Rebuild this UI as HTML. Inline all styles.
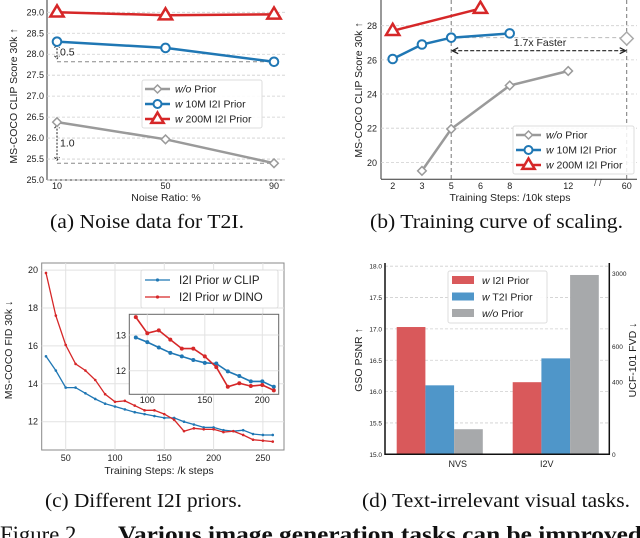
<!DOCTYPE html>
<html><head><meta charset="utf-8"><style>
html,body{margin:0;padding:0;background:#fff;}
svg{display:block;font-family:"Liberation Sans",sans-serif;}
.cap{font-family:"Liberation Serif",serif;font-size:20.5px;fill:#111;}
.tk{font-size:9px;fill:#222;}
.lb{font-size:10.5px;fill:#222;}
.grid{stroke:#cfcfcf;stroke-width:0.8;stroke-dasharray:3,2;}
</style></head><body>
<svg id="fig" width="640" height="538" viewBox="0 0 640 538">
<g id="pa">
<line x1="47" y1="0" x2="47" y2="180" stroke="#333" stroke-width="1"/>
<line x1="47" y1="180" x2="285" y2="180" stroke="#333" stroke-width="1"/>
<text class="lb" transform="translate(17,96) rotate(-90)" text-anchor="middle">MS-COCO CLIP Score 30k ↑</text>
<text class="lb" x="166" y="201" text-anchor="middle">Noise Ratio: %</text>
<text class="cap" x="50" y="228" textLength="194" lengthAdjust="spacingAndGlyphs">(a) Noise data for T2I.</text>
</g>
<g id="pb">
<line x1="381" y1="0" x2="381" y2="179" stroke="#333" stroke-width="1"/>
<line x1="381" y1="179.3" x2="637" y2="179.3" stroke="#333" stroke-width="1"/>
<text class="lb" transform="translate(362,90) rotate(-90)" text-anchor="middle">MS-COCO CLIP Score 30k ↑</text>
<text class="lb" x="510" y="201" text-anchor="middle">Training Steps: /10k steps</text>
<text class="cap" x="370" y="228" textLength="253" lengthAdjust="spacingAndGlyphs">(b) Training curve of scaling.</text>
<text x="594" y="186" font-size="9" fill="#444">/ /</text>
</g>
<g id="pc">
<rect x="41.7" y="263" width="242.3" height="187" fill="none" stroke="#888" stroke-width="1"/>
<text class="lb" transform="translate(12,350) rotate(-90)" text-anchor="middle">MS-COCO FID 30k ↓</text>
<text class="lb" x="159" y="474" text-anchor="middle">Training Steps: /k steps</text>
<text class="cap" x="45" y="507" textLength="197" lengthAdjust="spacingAndGlyphs">(c) Different I2I priors.</text>
</g>
<g id="pd">
<text class="lb" transform="translate(362,360) rotate(-90)" text-anchor="middle">GSO PSNR ↑</text>
<text class="lb" transform="translate(636,360) rotate(-90)" text-anchor="middle">UCF-101 FVD ↓</text>
<text class="cap" x="362" y="507" textLength="268" lengthAdjust="spacingAndGlyphs">(d) Text-irrelevant visual tasks.</text>
</g>
<text x="0" y="542" font-family="Liberation Serif,serif" font-size="23" fill="#111" textLength="82" lengthAdjust="spacingAndGlyphs">Figure 2.</text>
<text x="118" y="542" font-family="Liberation Serif,serif" font-size="23" font-weight="bold" fill="#111" textLength="524" lengthAdjust="spacingAndGlyphs">Various image generation tasks can be improved</text>
</svg>
<script>
// ---- Panel (a) data ----
const aCats = [10, 50, 90];
const aWo = [26.38, 25.97, 25.4];
const a10M = [28.3, 28.15, 27.82];
const a200M = [29.0, 28.93, 28.95];
const aTicks = [25.0, 25.5, 26.0, 26.5, 27.0, 27.5, 28.0, 28.5, 29.0];
// ---- Panel (b) data ----
const bTickVals = [2, 3, 5, 6, 8, 12, 60];
const bWoX = [3, 5, 8, 12];
const bWo = [19.5, 21.95, 24.5, 25.35];
const bWoFarX = [60];
const bWoFar = [27.25];
const b10MX = [2, 3, 5, 8];
const b10M = [26.05, 26.9, 27.3, 27.55];
const b200MX = [2, 6];
const b200M = [27.7, 29.0];
const bTicks = [20, 22, 24, 26, 28];
// ---- Panel (c) data ----
const cSteps = [30,40,50,60,70,80,90,100,110,120,130,140,150,160,170,180,190,200,210,220,230,240,250,260];
const cClip = [15.45,14.7,13.8,13.8,13.5,13.2,12.95,12.8,12.65,12.5,12.4,12.3,12.2,12.2,12.0,11.85,11.7,11.7,11.55,11.5,11.55,11.35,11.3,11.3];
const cDino = [19.85,17.6,16.05,15.05,14.7,14.2,13.45,13.05,13.1,12.85,12.6,12.6,12.4,12.1,11.5,11.65,11.6,11.6,11.45,11.5,11.3,11.05,11.0,10.95];
const cXTicks = [50, 100, 150, 200, 250];
const cYTicks = [12, 14, 16, 18, 20];
const ciSteps = [90,100,110,120,130,140,150,160,170,180,190,200,210];
const ciClip = [12.93,12.8,12.65,12.5,12.4,12.3,12.22,12.2,11.98,11.85,11.7,11.7,11.55];
const ciDino = [13.5,13.05,13.13,12.87,12.62,12.62,12.4,12.1,11.55,11.65,11.57,11.6,11.45];
const ciXTicks = [100, 150, 200];
const ciYTicks = [12, 13];
// ---- Panel (d) data ----
const dCats = ["NVS", "I2V"];
const dI2I = [17.03, 16.15];
const dT2I = [16.1, 16.53];
const dWo = [15.4, 17.86];
const dLeftTicks = ["15.0","15.5","16.0","16.5","17.0","17.5","18.0"];
const dRightTicks = ["0","400","600","3000"];
const dRightTickVals = [15.0, 16.15, 16.72, 17.88];

const NS = "http://www.w3.org/2000/svg";
function mk(tag, attrs, parent) {
  const e = document.createElementNS(NS, tag);
  for (const k in attrs) e.setAttribute(k, attrs[k]);
  parent.appendChild(e);
  return e;
}
function txt(str, attrs, parent) { const e = mk("text", attrs, parent); e.textContent = str; return e; }
function path(pts) { return pts.map((p, i) => (i ? "L" : "M") + p[0].toFixed(1) + "," + p[1].toFixed(1)).join(""); }
function tri(x, y, s) { return `M${x},${y - s}L${x + s * 0.95},${y + s * 0.6}L${x - s * 0.95},${y + s * 0.6}Z`; }
function dia(x, y, s) { return `M${x},${y - s}L${x + s},${y}L${x},${y + s}L${x - s},${y}Z`; }
const RED = "#d62728", BLUE = "#1f77b4", GRAY = "#9a9a9a";

// ===== Panel a =====
const pa = document.getElementById("pa");
const axA = v => 57 + (v - 10) / 80 * 217;
const ayA = v => 180 - (v - 25) / 4 * 167.7;
aTicks.forEach(t => {
  const g = mk("line", {x1: 47, x2: 285, y1: ayA(t), y2: ayA(t), class: "grid"}, pa);
  
  
  const l = txt(t.toFixed(1), {x: 44, y: ayA(t) + 3, "text-anchor": "end", class: "tk"}, pa);
  
  
});
aCats.forEach(c => {
  const l = txt(String(c), {x: axA(c), y: 189, "text-anchor": "middle", class: "tk"}, pa);
  
  
});
[[a10M[2], a10M[0], "0.5"], [aWo[2], aWo[0], "1.0"]].forEach(r => {
  const d = mk("line", {x1: axA(aCats[0]), x2: axA(aCats[2]), y1: ayA(r[0]), y2: ayA(r[0]), stroke: "#888", "stroke-width": 1, "stroke-dasharray": "4,3"}, pa);
  
  
  const x = axA(aCats[0]);
  const ar = mk("path", {d: `M${x},${ayA(r[1]) + 3}L${x},${ayA(r[0]) - 3}M${x - 2.5},${ayA(r[1]) + 6}L${x},${ayA(r[1]) + 3}L${x + 2.5},${ayA(r[1]) + 6}M${x - 2.5},${ayA(r[0]) - 6}L${x},${ayA(r[0]) - 3}L${x + 2.5},${ayA(r[0]) - 6}`, stroke: "#222", "stroke-width": 1, "stroke-dasharray": "2,1.5", fill: "none"}, pa);
  
  
  const lt = txt(r[2], {x: x + 3, y: (ayA(r[1]) + ayA(r[0])) / 2 + 4, class: "lb"}, pa);
  
  
});
function seriesA(vals, col, name, marker) {
  const pts = aCats.map((c, i) => [axA(c), ayA(vals[i])]);
  const ln = mk("path", {d: path(pts), stroke: col, "stroke-width": 2.5, fill: "none"}, pa);
  
  
  pts.forEach(p => {
    let m;
    if (marker === "tri") m = mk("path", {d: tri(p[0], p[1], 7), fill: "#fff", stroke: col, "stroke-width": 2.5}, pa);
    else if (marker === "circ") m = mk("circle", {cx: p[0], cy: p[1], r: 4.3, fill: "#fff", stroke: col, "stroke-width": 2}, pa);
    else m = mk("path", {d: dia(p[0], p[1], 4.3), fill: "#fff", stroke: col, "stroke-width": 1.5}, pa);
    
    
  });
}
seriesA(aWo, GRAY, "a-wo-prior", "dia");
seriesA(a10M, BLUE, "a-10m-prior", "circ");
seriesA(a200M, RED, "a-200m-prior", "tri");
function legend3(parent, x, y, w, pre) {
  const box = mk("rect", {x: x, y: y, width: w, height: 48, fill: "#fff", "fill-opacity": 0.85, stroke: "#ddd", rx: 2}, parent);
  
  
  const rows = [["w/o", " Prior", GRAY, "dia"], ["w", " 10M I2I Prior", BLUE, "circ"], ["w", " 200M I2I Prior", RED, "tri"]];
  rows.forEach((r, i) => {
    const cy = y + 9 + i * 15;
    mk("line", {x1: x + 3, x2: x + 28, y1: cy, y2: cy, stroke: r[2], "stroke-width": 2.5}, parent);
    if (r[3] === "dia") mk("path", {d: dia(x + 15.5, cy, 4), fill: "#fff", stroke: r[2], "stroke-width": 1.5}, parent);
    else if (r[3] === "circ") mk("circle", {cx: x + 15.5, cy: cy, r: 4, fill: "#fff", stroke: r[2], "stroke-width": 2}, parent);
    else mk("path", {d: tri(x + 15.5, cy, 6.5), fill: "#fff", stroke: r[2], "stroke-width": 2.5}, parent);
    const t = mk("text", {x: x + 33, y: cy + 3.5, class: "lb"}, parent);
    
    
    const s1 = mk("tspan", {"font-style": "italic"}, t); s1.textContent = r[0];
    const s2 = mk("tspan", {}, t); s2.textContent = r[1];
  });
}
legend3(pa, 142, 80, 120, "a");

// ===== Panel b =====
const pb = document.getElementById("pb");
const bIdx = [2, 3, 5, 6, 8, null, 12, null, 60];
const axB = v => 392.7 + bIdx.indexOf(v) * 29.25;
const ayB = v => 25.7 + (28 - v) * 17.08;
bTicks.forEach(t => {
  const g = mk("line", {x1: 381, x2: 637, y1: ayB(t), y2: ayB(t), class: "grid"}, pb);
  
  
  const l = txt(String(t), {x: 377, y: ayB(t) + 3.5, "text-anchor": "end", class: "tk", "font-size": "9.5"}, pb);
  
  
});
bTickVals.forEach(t => {
  const l = txt(String(t), {x: axB(t), y: 189, "text-anchor": "middle", class: "tk"}, pb);
  
  
});
[5, 60].forEach(v => {
  const vl = mk("line", {x1: axB(v), x2: axB(v), y1: 0, y2: 179, stroke: "#777", "stroke-width": 1, "stroke-dasharray": "4,3"}, pb);
  
  
});
const hl = mk("line", {x1: axB(5), x2: axB(60), y1: ayB(b10M[2]), y2: ayB(b10M[2]), stroke: "#bbb", "stroke-width": 1, "stroke-dasharray": "4,3"}, pb);


{
  const x1 = axB(5) + 1, x2 = axB(60) - 1, y = 50.7;
  const ar = mk("path", {d: `M${x1},${y}L${x2},${y}`, stroke: "#222", "stroke-width": 1.2, "stroke-dasharray": "4,2"}, pb);
  
  
  mk("path", {d: `M${x1 + 6},${y - 3}L${x1},${y}L${x1 + 6},${y + 3}M${x2 - 6},${y - 3}L${x2},${y}L${x2 - 6},${y + 3}`, stroke: "#222", "stroke-width": 1.2, fill: "none"}, pb);
  const t = txt("1.7x Faster", {x: 540, y: 46, "text-anchor": "middle", class: "lb"}, pb);
  
  
}
function seriesB(xs, vals, col, name, marker, noLine) {
  const pts = xs.map((c, i) => [axB(c), ayB(vals[i])]);
  if (!noLine) {
    const ln = mk("path", {d: path(pts), stroke: col, "stroke-width": 2.5, fill: "none"}, pb);
    
    
  }
  pts.forEach(p => {
    let m;
    if (marker === "tri") m = mk("path", {d: tri(p[0], p[1], 7), fill: "#fff", stroke: col, "stroke-width": 2.5}, pb);
    else if (marker === "circ") m = mk("circle", {cx: p[0], cy: p[1], r: 4.3, fill: "#fff", stroke: col, "stroke-width": 2}, pb);
    else m = mk("path", {d: dia(p[0], p[1], noLine ? 6.5 : 4.3), fill: "#fff", stroke: col, "stroke-width": 1.5}, pb);
    
    
  });
}
seriesB(bWoX, bWo, GRAY, "b-wo-prior", "dia");
seriesB(bWoFarX, bWoFar, "#aaa", "b-wo-prior-60", "dia", true);
seriesB(b10MX, b10M, BLUE, "b-10m-prior", "circ");
seriesB(b200MX, b200M, RED, "b-200m-prior", "tri");
legend3(pb, 513, 126, 121, "b");

// ===== Panel c =====
const pc = document.getElementById("pc");
const axC = v => 65.7 + (v - 50) * 0.986;
const ayC = v => 421.7 - (v - 12) * 18.95;
cXTicks.forEach(t => {
  const g = mk("line", {x1: axC(t), x2: axC(t), y1: 263, y2: 450, stroke: "#e2e2e2", "stroke-width": 1}, pc);
  
  
  const l = txt(String(t), {x: axC(t), y: 461, "text-anchor": "middle", class: "tk", "font-size": "9.5"}, pc);
  
  
});
cYTicks.forEach(t => {
  const g = mk("line", {x1: 41.7, x2: 284, y1: ayC(t), y2: ayC(t), stroke: "#e2e2e2", "stroke-width": 1}, pc);
  
  
  const l = txt(String(t), {x: 38, y: ayC(t) + 3, "text-anchor": "end", class: "tk", "font-size": "9.5"}, pc);
  
  
});
function seriesC(xs, vals, col, name, fx, fy, r, w) {
  const pts = xs.map((c, i) => [fx(c), fy(vals[i])]);
  const ln = mk("path", {d: path(pts), stroke: col, "stroke-width": w, fill: "none"}, pc);
  
  
  pts.forEach(p => {
    const m = mk("circle", {cx: p[0], cy: p[1], r: r, fill: col}, pc);
    
    
  });
}
seriesC(cSteps, cClip, BLUE, "c-clip", axC, ayC, 1.3, 1.3);
seriesC(cSteps, cDino, RED, "c-dino", axC, ayC, 1.3, 1.3);
{
  const box = mk("rect", {x: 141, y: 270, width: 137, height: 38, fill: "#fff", stroke: "#ddd", rx: 2}, pc);
  
  
  [["CLIP", BLUE], ["DINO", RED]].forEach((r, i) => {
    const cy = 280 + i * 17;
    mk("line", {x1: 145, x2: 170, y1: cy, y2: cy, stroke: r[1], "stroke-width": 1.3}, pc);
    mk("circle", {cx: 157.5, cy: cy, r: 1.6, fill: r[1]}, pc);
    const t = mk("text", {x: 179, y: cy + 4, "font-size": "11.5", fill: "#222"}, pc);
    
    
    const a = mk("tspan", {}, t); a.textContent = "I2I Prior ";
    const b = mk("tspan", {"font-style": "italic"}, t); b.textContent = "w";
    const c = mk("tspan", {}, t); c.textContent = " " + r[0];
  });
}
const axI = v => 147.3 + (v - 100) * 1.15;
const ayI = v => 370.7 - (v - 12) * 35.7;
{
  const ib = mk("rect", {x: 129.3, y: 314.3, width: 149.4, height: 80, fill: "#fff", stroke: "#666", "stroke-width": 1}, pc);
  
  
}
ciXTicks.forEach(t => {
  const g = mk("line", {x1: axI(t), x2: axI(t), y1: 314.3, y2: 394.3, stroke: "#e2e2e2"}, pc);
  
  
  const l = txt(String(t), {x: axI(t), y: 403, "text-anchor": "middle", class: "tk", "font-size": "9.5"}, pc);
  
  
});
ciYTicks.forEach(t => {
  const g = mk("line", {x1: 129.3, x2: 278.7, y1: ayI(t), y2: ayI(t), stroke: "#e2e2e2"}, pc);
  
  
  const l = txt(String(t), {x: 126, y: ayI(t) + 3.5, "text-anchor": "end", class: "tk", "font-size": "9.5"}, pc);
  
  
});
seriesC(ciSteps, ciClip, BLUE, "c-inset-clip", axI, ayI, 2, 1.6);
seriesC(ciSteps, ciDino, RED, "c-inset-dino", axI, ayI, 2, 1.6);

// ===== Panel d =====
const pd = document.getElementById("pd");
const ayD = v => 454.3 - (v - 15) * 62.7;
const dGroupX = [396.7, 512.7];
const dBW = 28.7;
dLeftTicks.forEach(t => {
  const v = parseFloat(t);
  if (v > 15) {
    const g = mk("line", {x1: 385, x2: 609, y1: ayD(v), y2: ayD(v), class: "grid"}, pd);
    
    
  }
  const l = txt(t, {x: 382, y: ayD(v) + 2.5, "text-anchor": "end", "font-size": "6.5", fill: "#222"}, pd);
  
  
});
dRightTicks.forEach((t, i) => {
  const y = ayD(dRightTickVals[i]);
  const l = txt(t, {x: 612, y: y + 2.5, "font-size": "6.5", fill: "#222"}, pd);
  
  
});
[[dI2I, "#d9595b", "d-bar-i2i"], [dT2I, "#4f96c9", "d-bar-t2i"], [dWo, "#a7a9ab", "d-bar-wo"]].forEach((s, j) => {
  s[0].forEach((v, i) => {
    const b = mk("rect", {x: dGroupX[i] + j * dBW, y: ayD(v), width: dBW, height: ayD(15) - ayD(v), fill: s[1]}, pd);
    
    
  });
});
dCats.forEach((c, i) => {
  const l = txt(c, {x: dGroupX[i] + dBW * 1.5 + (i ? -9 : 18), y: 467, "text-anchor": "middle", "font-size": "9", fill: "#222"}, pd);
  
  
});
{
  const ax = mk("path", {d: "M385,263L385,454.3L609.3,454.3L609.3,263", stroke: "#111", "stroke-width": 1.5, fill: "none"}, pd);
  
  
  const box = mk("rect", {x: 448, y: 271, width: 99, height: 52, fill: "#fff", "fill-opacity": 0.9, stroke: "#ddd", rx: 2}, pd);
  
  
  [["w", " I2I Prior", "#d9595b"], ["w", " T2I Prior", "#4f96c9"], ["w/o", " Prior", "#a7a9ab"]].forEach((r, i) => {
    const cy = 280 + i * 16.5;
    mk("rect", {x: 452, y: cy - 4, width: 22, height: 8, fill: r[2]}, pd);
    const t = mk("text", {x: 482, y: cy + 4, "font-size": "10.5", fill: "#222"}, pd);
    
    
    const a = mk("tspan", {"font-style": "italic"}, t); a.textContent = r[0];
    const b = mk("tspan", {}, t); b.textContent = r[1];
  });
}
</script>
</body></html>
